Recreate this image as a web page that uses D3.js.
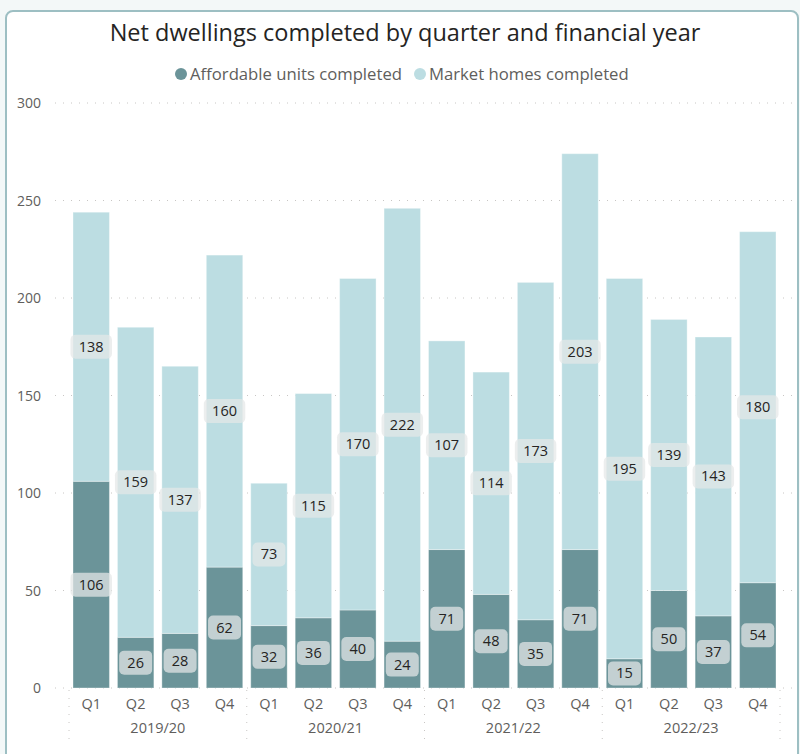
<!DOCTYPE html>
<html lang="en">
<head>
  <meta charset="UTF-8">
  <title>Net dwellings completed</title>
  <script src="https://d3js.org/d3.v7.min.js"></script>
  <style>
    body {
      margin: 0;
      background: #f3f8f8;
      font-family: 'Open Sans', 'Noto Sans', sans-serif;
    }
    #card {
      position: absolute;
      left: 5px;
      top: 10px;
      width: 790px;
      height: 760px;
      background: #fff;
      border: 2px solid #9dbfc3;
      border-radius: 8px;
    }
    #chart {
      position: absolute;
      left: 0;
      top: 0;
    }
  </style>
</head>
<body>
  <div id="card"></div>
  <div id="chart"></div>

  <script>
    // Data
    const years = ["2019/20", "2020/21", "2021/22", "2022/23"];
    const quarters = ["Q1", "Q2", "Q3", "Q4"];
    const affordable = [106, 26, 28, 62, 32, 36, 40, 24, 71, 48, 35, 71, 15, 50, 37, 54];
    const market = [138, 159, 137, 160, 73, 115, 170, 222, 107, 114, 173, 203, 195, 139, 143, 180];
    const yTicks = [0, 50, 100, 150, 200, 250, 300];
    const seriesNames = ["Affordable units completed", "Market homes completed"];

    const width = 800, height = 754;
    const colors = ["#6b9499", "#bcdde2"];

    const rows = [];
    years.forEach((yr, yi) => {
      quarters.forEach((q, qi) => {
        const i = yi * 4 + qi;
        rows.push({ key: yr + "-" + q, year: yr, quarter: q, affordable: affordable[i], market: market[i] });
      });
    });

    const svg = d3.select("#chart").append("svg")
      .attr("width", width)
      .attr("height", height);

    // Title
    svg.append("text")
      .attr("x", 405).attr("y", 41)
      .attr("text-anchor", "middle")
      .attr("font-size", "23.5px")
      .attr("fill", "#252423")
      .text("Net dwellings completed by quarter and financial year");

    // Legend
    const legend = svg.append("g").attr("font-size", "16.7px").attr("fill", "#605e5c");
    const legendX = [181, 420];
    seriesNames.forEach((name, i) => {
      legend.append("circle").attr("cx", legendX[i]).attr("cy", 74).attr("r", 6).attr("fill", colors[i]);
      legend.append("text").attr("x", legendX[i] + 9).attr("y", 80).text(name);
    });

    const x = d3.scaleBand()
      .domain(rows.map(d => d.key))
      .range([69, 780])
      .paddingInner(0.18)
      .paddingOuter(0.09);

    const y = d3.scaleLinear()
      .domain([0, 300])
      .range([688, 103]);

    // Gridlines
    svg.append("g")
      .selectAll("line")
      .data(yTicks)
      .join("line")
      .attr("x1", 55).attr("x2", 792)
      .attr("y1", d => y(d)).attr("y2", d => y(d))
      .attr("stroke", "#c8c6c4")
      .attr("stroke-width", 1)
      .attr("stroke-dasharray", "1,7");

    // Y axis labels
    svg.append("g")
      .selectAll("text")
      .data(yTicks)
      .join("text")
      .attr("x", 41)
      .attr("y", d => y(d) + 5)
      .attr("text-anchor", "end")
      .attr("font-size", "14px")
      .attr("fill", "#605e5c")
      .text(d => d);

    // Stacked bars
    const stack = d3.stack().keys(["affordable", "market"]);
    const series = stack(rows);

    const bars = svg.append("g");
    series.forEach((s, si) => {
      bars.append("g")
        .selectAll("rect")
        .data(s)
        .join("rect")
        .attr("x", d => x(d.data.key))
        .attr("width", x.bandwidth())
        .attr("y", d => y(d[1]))
        .attr("height", d => y(d[0]) - y(d[1]))
        .attr("fill", colors[si])
        .attr("stroke", "rgba(255,255,255,0.35)")
        .attr("stroke-width", 1);
    });

    // Data labels
    const labels = svg.append("g").attr("font-size", "14.5px");
    series.forEach(s => {
      s.forEach(d => {
        const val = d[1] - d[0];
        const txt = String(val);
        const cx = x(d.data.key) + x.bandwidth() / 2;
        const cy = y((d[0] + d[1]) / 2);
        const w = txt.length * 8.5 + 16;
        labels.append("rect")
          .attr("x", cx - w / 2).attr("y", cy - 12)
          .attr("width", w).attr("height", 24)
          .attr("rx", 5)
          .attr("fill", "rgba(228,231,232,0.72)");
        labels.append("text")
          .attr("x", cx).attr("y", cy + 5)
          .attr("text-anchor", "middle")
          .attr("fill", "#252423")
          .text(txt);
      });
    });

    // Quarter labels
    svg.append("g")
      .selectAll("text")
      .data(rows)
      .join("text")
      .attr("x", d => x(d.key) + x.bandwidth() / 2)
      .attr("y", 709)
      .attr("text-anchor", "middle")
      .attr("font-size", "14.5px")
      .attr("fill", "#605e5c")
      .text(d => d.quarter);

    // Year labels
    const step = x.step();
    svg.append("g")
      .selectAll("text")
      .data(years)
      .join("text")
      .attr("x", (d, i) => 69 + step * (i * 4 + 2))
      .attr("y", 733)
      .attr("text-anchor", "middle")
      .attr("font-size", "14.5px")
      .attr("fill", "#605e5c")
      .text(d => d);

    // Year separators
    svg.append("g")
      .selectAll("line")
      .data(d3.range(years.length + 1))
      .join("line")
      .attr("x1", i => 69 + step * i * 4)
      .attr("x2", i => 69 + step * i * 4)
      .attr("y1", 690).attr("y2", 742)
      .attr("stroke", "#c8c6c4")
      .attr("stroke-width", 1)
      .attr("stroke-dasharray", "1,7");
  </script>
</body>
</html>
